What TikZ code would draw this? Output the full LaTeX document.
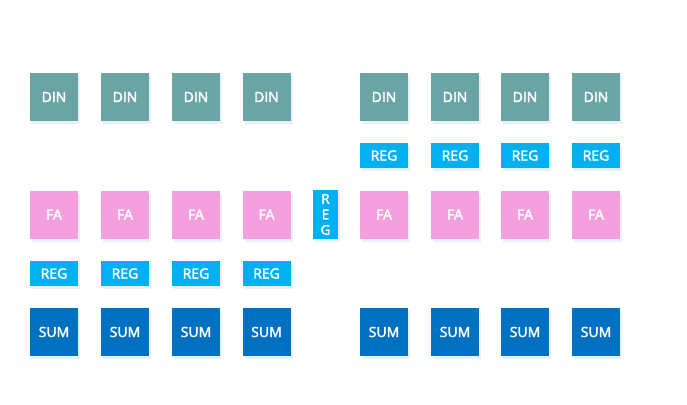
\documentclass[tikz,border=0pt]{standalone}
\usepackage{fontspec}
\newfontfamily\labfont[FakeBold=2.5]{Open Sans}
\definecolor{dincol}{HTML}{6AA4A4}
\definecolor{facol}{HTML}{F5A0DE}
\definecolor{regcol}{HTML}{00B0F0}
\definecolor{sumcol}{HTML}{0070C0}
\definecolor{shadowcol}{HTML}{D4E2F2}
\tikzset{
  blk/.style={minimum width=48pt, minimum height=48pt, inner sep=0pt, text=white,
    font=\labfont\fontsize{14}{15}\selectfont,
    preaction={fill=shadowcol, opacity=0.5, transform canvas={xshift=2pt,yshift=-3pt}}},
  din/.style={blk, fill=dincol},
  fa/.style={blk, fill=facol},
  sum/.style={blk, fill=sumcol},
  reg/.style={blk, fill=regcol, minimum height=25pt},
  vreg/.style={blk, fill=regcol, minimum width=25pt, minimum height=49pt, align=center,
    font=\labfont\fontsize{13.5}{15.5}\selectfont},
}
\begin{document}
\begin{tikzpicture}[x=1pt,y=-1pt]
\useasboundingbox (0,0) rectangle (687,404);
\foreach \x [count=\i] in {54,125,196,266.5,384,455,525,596}{
  \node[din] (din\i) at (\x,97) {DIN};
  \node[fa] (fa\i) at (\x,214.5) {FA};
}
\foreach \x [count=\i from 5] in {384,455,525,596}{
  \node[reg] (rega\i) at (\x,155.5) {REG};
  \node[sum] (sum\i) at (\x,332) {SUM};
}
\foreach \x [count=\i] in {54,125,196,266.5}{
  \node[reg] (regb\i) at (\x,273.5) {REG};
  \node[sum] (sum\i) at (\x,332) {SUM};
}
\node[vreg] (vreg) at (325.5,214.5) {R\\E\\G};
\end{tikzpicture}
\end{document}
